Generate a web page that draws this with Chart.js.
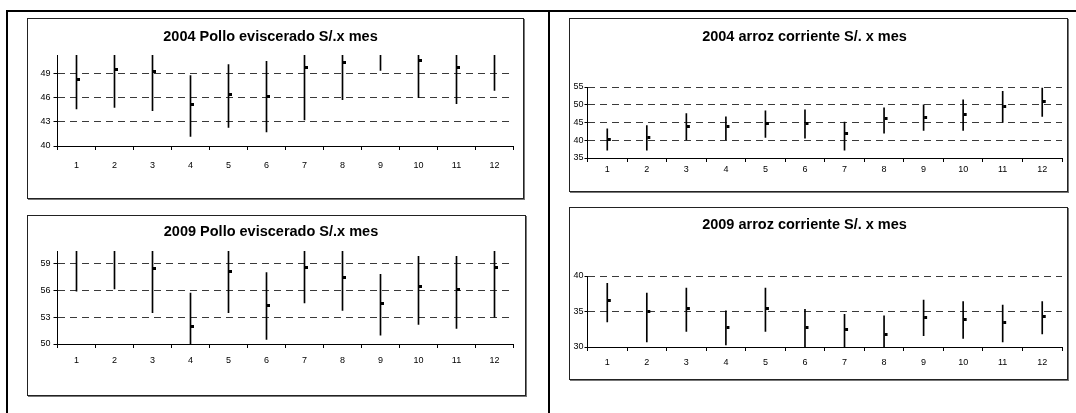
<!DOCTYPE html>
<html>
<head>
<meta charset="utf-8">
<script src="https://cdn.jsdelivr.net/npm/chart.js@4.4.1/dist/chart.umd.min.js"></script>
<style>
    body { margin: 0; background: #fff; width: 1076px; height: 413px; overflow: hidden; position: relative; }
    .rule { position: absolute; background: #000; }
    .box { position: absolute; box-sizing: border-box; border: 1px solid #222; box-shadow: 1px 1px 0 #777; background: #fff; }
    .box canvas { position: absolute; left: 0; top: 0; }
</style>
</head>
<body>
<div class="rule" style="left:6px;top:10px;width:1070px;height:2px"></div>
<div class="rule" style="left:6px;top:10px;width:2px;height:403px"></div>
<div class="rule" style="left:548px;top:10px;width:2px;height:403px"></div>

<script>
const months = ['1', '2', '3', '4', '5', '6', '7', '8', '9', '10', '11', '12'];

// 2004 pollo eviscerado (S/. por mes)
const pollo2004High = [52, 52, 52, 48.75, 50.1, 50.5, 52, 52, 52, 52, 52, 52];
const pollo2004Low = [44.6, 44.8, 44.4, 41.2, 42.3, 41.75, 43.25, 45.75, 49.4, 46.0, 45.25, 46.9];
const pollo2004Close = [48.3, 49.5, 49.25, 45.1, 46.4, 46.2, 49.7, 50.4, null, 50.6, 49.8, null];
const pollo2004Ticks = [40, 43, 46, 49];

// 2009 pollo eviscerado
const pollo2009High = [61, 61, 61, 55.7, 61, 58.0, 61, 61, 57.8, 59.8, 59.8, 61];
const pollo2009Low = [55.9, 56.15, 53.5, 49.5, 53.5, 50.5, 54.6, 53.75, 51.0, 52.2, 51.75, 53.0];
const pollo2009Close = [null, null, 58.4, 51.95, 58.1, 54.3, 58.6, 57.45, 54.5, 56.4, 56.1, 58.6];
const pollo2009Ticks = [50, 53, 56, 59];

// 2004 arroz corriente
const arroz2004High = [43.2, 44.1, 47.5, 46.6, 48.3, 48.6, 45.1, 49.1, 50.0, 51.4, 53.8, 54.7];
const arroz2004Low = [37.2, 37.2, 40.1, 40.1, 40.8, 40.6, 37.2, 42.0, 42.8, 42.8, 45.0, 46.7];
const arroz2004Close = [40.35, 40.9, 43.8, 43.8, 44.8, 44.8, 41.8, 46.0, 46.5, 47.2, 49.55, 50.8];
const arroz2004Ticks = [35, 40, 45, 50, 55];

// 2009 arroz corriente
const arroz2009High = [38.96, 37.6, 38.3, 35.1, 38.3, 35.3, 34.6, 34.4, 36.6, 36.4, 35.9, 36.4];
const arroz2009Low = [33.55, 30.7, 32.2, 30.3, 32.2, 29.5, 29.5, 29.5, 31.6, 31.2, 30.7, 31.85];
const arroz2009Close = [36.5, 35.0, 35.45, 32.8, 35.45, 32.8, 32.4, 31.75, 34.1, 33.9, 33.45, 34.35];
const arroz2009Ticks = [30, 35, 40];

// page layout, in page pixels
const panels = [
    { title: '2004 Pollo eviscerado S/.x mes', high: pollo2004High, low: pollo2004Low, close: pollo2004Close,
      ticks: pollo2004Ticks, min: 40, max: 51.3,
      box: [27, 18, 524, 199], plot: [57.5, 55, 513.5, 146], titleX: 270.5, titleY: 37, labelY: 166, yTick: 4, yPad: 3 },
    { title: '2009 Pollo eviscerado S/.x mes', high: pollo2009High, low: pollo2009Low, close: pollo2009Close,
      ticks: pollo2009Ticks, min: 50, max: 60.4,
      box: [27, 215, 526, 396], plot: [57.5, 251, 513.5, 344], titleX: 271, titleY: 232, labelY: 361, yTick: 4, yPad: 3 },
    { title: '2004 arroz corriente S/. x mes', high: arroz2004High, low: arroz2004Low, close: arroz2004Close,
      ticks: arroz2004Ticks, min: 35, max: 55,
      box: [569, 18, 1068, 192], plot: [587.5, 87, 1062.5, 158], titleX: 804.5, titleY: 37, labelY: 170, yTick: 3, yPad: 1 },
    { title: '2009 arroz corriente S/. x mes', high: arroz2009High, low: arroz2009Low, close: arroz2009Close,
      ticks: arroz2009Ticks, min: 30, max: 40,
      box: [569, 207, 1068, 380], plot: [587.5, 276, 1062.5, 347], titleX: 804.5, titleY: 225, labelY: 363, yTick: 3, yPad: 1 }
];

const FONT = '"Liberation Sans", Arial, Helvetica, sans-serif';
const titleSize = 14.5;
const tickSize = 9;

// close marker: small square sitting just right of the hi-lo line
const closeMark = document.createElement('canvas');
closeMark.width = 9;
closeMark.height = 3;
const mctx = closeMark.getContext('2d');
mctx.fillStyle = '#000';
mctx.fillRect(5, 0, 3, 3);

function makeChart(p) {
    const cx = p.box[0] + 1, cy = p.box[1] + 1;
    const cw = p.box[2] - p.box[0] - 2, ch = p.box[3] - p.box[1] - 2;

    const div = document.createElement('div');
    div.className = 'box';
    div.style.left = p.box[0] + 'px';
    div.style.top = p.box[1] + 'px';
    div.style.width = (p.box[2] - p.box[0]) + 'px';
    div.style.height = (p.box[3] - p.box[1]) + 'px';
    const canvas = document.createElement('canvas');
    canvas.width = cw;
    canvas.height = ch;
    canvas.style.width = cw + 'px';
    canvas.style.height = ch + 'px';
    div.appendChild(canvas);
    document.body.appendChild(div);

    const plotL = p.plot[0] - cx, plotT = p.plot[1] - cy;
    const plotR = p.plot[2] - cx, plotB = p.plot[3] - cy;
    const padRight = cw - plotR;
    const padLeft = 2 * (p.titleX - cx) - plotR;   // centres the title where the original has it
    const tlh = titleSize * 1.2;
    const titleTop = p.titleY - cy - tlh / 2;
    const titleBottom = plotT - titleTop - tlh;
    const xTick = 4;
    const xPad = (p.labelY - cy - plotB) - xTick - tickSize * 1.2 / 2;

    const hilo = months.map((m, i) => [p.low[i], p.high[i]]);

    return new Chart(canvas, {
        type: 'bar',
        data: {
            labels: months,
            datasets: [{
                type: 'line',
                data: p.close,
                showLine: false,
                pointStyle: closeMark,
                pointRadius: 3,
                order: 0
            }, {
                data: hilo,
                backgroundColor: '#000',
                barThickness: 1,
                clip: 0,
                order: 1
            }]
        },
        options: {
            responsive: false,
            animation: false,
            events: [],
            layout: { padding: { left: padLeft, right: padRight, top: 0, bottom: 0 } },
            plugins: {
                legend: { display: false },
                tooltip: { enabled: false },
                title: {
                    display: true,
                    text: p.title,
                    color: '#000',
                    font: { family: FONT, size: titleSize, weight: 'bold', lineHeight: 1.2 },
                    padding: { top: titleTop, bottom: titleBottom }
                }
            },
            scales: {
                x: {
                    type: 'category',
                    offset: true,
                    grid: { display: true, drawOnChartArea: false, offset: true, color: '#000', tickLength: xTick },
                    border: { display: true, color: '#000', width: 1 },
                    ticks: { color: '#000', font: { family: FONT, size: tickSize }, padding: xPad, maxRotation: 0 },
                    afterFit: s => { s.height = ch - plotB; }
                },
                y: {
                    min: p.min,
                    max: p.max,
                    beginAtZero: false,
                    afterBuildTicks: s => { s.ticks = p.ticks.map(v => ({ value: v })); },
                    grid: { color: '#3a3a3a', lineWidth: 1, tickColor: '#000', tickLength: p.yTick, tickBorderDash: [] },
                    border: { display: true, color: '#000', width: 1, dash: [7, 5] },
                    ticks: { color: '#000', font: { family: FONT, size: tickSize }, padding: p.yPad },
                    afterFit: s => { s.width = plotL - padLeft; }
                }
            }
        }
    });
}

panels.forEach(makeChart);
</script>
</body>
</html>
